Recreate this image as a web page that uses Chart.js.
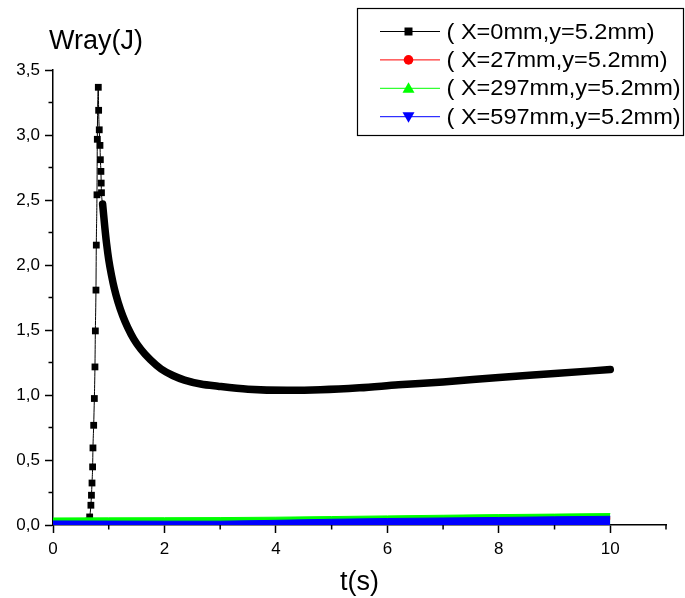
<!DOCTYPE html>
<html>
<head>
<meta charset="utf-8">
<script src="https://cdn.jsdelivr.net/npm/chart.js@4/dist/chart.umd.min.js"></script>
<style>
  html, body { margin: 0; padding: 0; background: #fff; }
</style>
</head>
<body>
<canvas id="wrayChart" width="685" height="598"></canvas>
<script>
const seriesLabels = ["( X=0mm,y=5.2mm)", "( X=27mm,y=5.2mm)", "( X=297mm,y=5.2mm)", "( X=597mm,y=5.2mm)"];
const seriesColors = ["#000000", "#ff0000", "#00ff00", "#0000ff"];

// X=0mm : pulse then slow decay
const tX0 = [0, 0.3, 0.6, 0.64, 0.658, 0.68, 0.69, 0.70, 0.711, 0.717, 0.73, 0.742, 0.753, 0.76, 0.771, 0.777, 0.789, 0.795, 0.813,
  0.819, 0.83, 0.843, 0.85, 0.86, 0.865, 0.87, 0.89, 0.93, 0.96, 1.00, 1.05, 1.10, 1.17, 1.25, 1.34, 1.45, 1.58, 1.75, 1.94,
  2.15, 2.36, 2.65, 2.96, 3.5, 4.2, 4.8, 5.5, 6.2, 7.0, 8.0, 9.0, 10.0];
const wX0 = [0.01, 0.01, 0.015, 0.03, 0.062, 0.152, 0.229, 0.323, 0.447, 0.593, 0.767, 0.973, 1.216, 1.493, 1.807, 2.153, 2.54, 2.967, 3.367,
  3.19, 3.04, 2.92, 2.81, 2.72, 2.63, 2.556, 2.47, 2.29, 2.17, 2.04, 1.92, 1.82, 1.71, 1.61, 1.52, 1.43, 1.35, 1.27, 1.20,
  1.15, 1.115, 1.085, 1.068, 1.045, 1.036, 1.04, 1.055, 1.078, 1.10, 1.135, 1.165, 1.196];

// the three far positions stay close to zero
const tFar = [0, 1, 2, 3, 4, 5, 6, 7, 8, 9, 10];
const wX27 = [0.02, 0.02, 0.021, 0.022, 0.026, 0.031, 0.036, 0.040, 0.044, 0.048, 0.052];
const wX297 = [0.054, 0.055, 0.056, 0.057, 0.060, 0.065, 0.070, 0.075, 0.080, 0.084, 0.088];
const wX597 = [0.031, 0.030, 0.029, 0.029, 0.036, 0.044, 0.050, 0.054, 0.058, 0.063, 0.067];

const xTicks = [0, 2, 4, 6, 8, 10];
const yTicks = [0, 0.5, 1.0, 1.5, 2.0, 2.5, 3.0, 3.5];
const xMinor = [1, 3, 5, 7, 9, 11];
const yMinor = [0.25, 0.75, 1.25, 1.75, 2.25, 2.75, 3.25];

const FONT = "'Liberation Sans', Arial, sans-serif";

const toPoints = (xs, ys) => xs.map((x, i) => ({ x, y: ys[i] }));

// petits traits secondaires sur les deux axes
const minorTicks = {
  id: "minorTicks",
  afterDraw(chart) {
    const { ctx, chartArea, scales } = chart;
    ctx.save();
    ctx.strokeStyle = "#000";
    ctx.lineWidth = 1.5;
    ctx.beginPath();
    xMinor.forEach((v) => {
      const px = scales.x.getPixelForValue(v);
      ctx.moveTo(px, chartArea.bottom);
      ctx.lineTo(px, chartArea.bottom + 4.5);
    });
    yMinor.forEach((v) => {
      const py = scales.y.getPixelForValue(v);
      ctx.moveTo(chartArea.left, py);
      ctx.lineTo(chartArea.left - 4.5, py);
    });
    ctx.stroke();
    ctx.restore();
  }
};

const axisTitles = {
  id: "axisTitles",
  afterDraw(chart) {
    const { ctx, chartArea } = chart;
    ctx.save();
    ctx.fillStyle = "#000";
    ctx.font = "27px " + FONT;
    ctx.textBaseline = "middle";
    ctx.textAlign = "left";
    ctx.fillText("Wray(J)", chartArea.left - 4, 42);
    ctx.textAlign = "center";
    ctx.fillText("t(s)", (chartArea.left + chartArea.right) / 2, 583);
    ctx.restore();
  }
};

function drawMarker(ctx, style, x, y, color) {
  ctx.fillStyle = color;
  ctx.beginPath();
  if (style === "rect") {
    ctx.rect(x - 4, y - 4, 8, 8);
  } else if (style === "circle") {
    ctx.arc(x, y, 4.8, 0, Math.PI * 2);
  } else if (style === "up") {
    ctx.moveTo(x, y - 6);
    ctx.lineTo(x + 6, y + 4.5);
    ctx.lineTo(x - 6, y + 4.5);
  } else {
    ctx.moveTo(x, y + 6);
    ctx.lineTo(x + 6, y - 4.5);
    ctx.lineTo(x - 6, y - 4.5);
  }
  ctx.closePath();
  ctx.fill();
}

const legendBox = {
  id: "legendBox",
  afterDraw(chart) {
    const { ctx } = chart;
    const styles = ["rect", "circle", "up", "down"];
    ctx.save();
    ctx.strokeStyle = "#000";
    ctx.lineWidth = 1.2;
    ctx.strokeRect(357.5, 8.5, 326, 127);
    seriesLabels.forEach((label, i) => {
      const y = 31.5 + i * 28.4;
      ctx.strokeStyle = seriesColors[i];
      ctx.lineWidth = 1;
      ctx.beginPath();
      ctx.moveTo(380, y);
      ctx.lineTo(440, y);
      ctx.stroke();
      drawMarker(ctx, styles[i], 408.5, y, seriesColors[i]);
      ctx.save();
      ctx.translate(446.5, y);
      ctx.scale(1.07, 1);
      ctx.fillStyle = "#000";
      ctx.font = "22px " + FONT;
      ctx.textBaseline = "middle";
      ctx.fillText(label, 0, 1);
      ctx.restore();
    });
    ctx.restore();
  }
};

new Chart(document.getElementById("wrayChart"), {
  type: "line",
  data: {
    datasets: [
      {
        label: seriesLabels[0],
        data: toPoints(tX0, wX0),
        borderColor: "#000",
        backgroundColor: "#000",
        borderWidth: 1,
        cubicInterpolationMode: "monotone",
        borderJoinStyle: "round",
        borderCapStyle: "round",
        pointStyle: "rect",
        pointRadius: (c) => (c.raw && c.raw.x > 0.885 ? 0 : 4.8),
        pointBorderWidth: 0,
        segment: {
          borderWidth: (c) => (c.p0.parsed.x >= 0.885 ? 7.5 : 1)
        },
        order: 3
      },
      {
        label: seriesLabels[1],
        data: toPoints(tFar, wX27),
        borderColor: "#ff0000",
        borderWidth: 3,
        pointRadius: 0,
        order: 2
      },
      {
        label: seriesLabels[2],
        data: toPoints(tFar, wX297),
        borderColor: "#00ff00",
        backgroundColor: "#00ff00",
        borderWidth: 1,
        fill: "origin",
        pointRadius: 0,
        order: 1
      },
      {
        label: seriesLabels[3],
        data: toPoints(tFar, wX597),
        borderColor: "#0000ff",
        backgroundColor: "#0000ff",
        borderWidth: 1,
        fill: "origin",
        pointRadius: 0,
        order: 0
      }
    ]
  },
  options: {
    responsive: false,
    animation: false,
    layout: { padding: { top: 70, right: 19, left: 0, bottom: 0 } },
    plugins: {
      legend: { display: false },
      tooltip: { enabled: false }
    },
    scales: {
      x: {
        type: "linear",
        min: 0,
        max: 11,
        afterFit: (scale) => { scale.height = 73; },
        afterBuildTicks: (scale) => { scale.ticks = xTicks.map((value) => ({ value })); },
        grid: { drawOnChartArea: false, tickLength: 8, tickWidth: 1.5, tickColor: "#000" },
        border: { color: "#000", width: 1.5 },
        ticks: { color: "#000", font: { family: FONT, size: 17 }, padding: 6, maxRotation: 0 }
      },
      y: {
        min: 0,
        max: 3.5,
        afterFit: (scale) => { scale.width = 53; },
        afterBuildTicks: (scale) => { scale.ticks = yTicks.map((value) => ({ value })); },
        grid: { drawOnChartArea: false, tickLength: 8, tickWidth: 1.5, tickColor: "#000" },
        border: { color: "#000", width: 1.5 },
        ticks: {
          color: "#000",
          font: { family: FONT, size: 17 },
          padding: 5,
          callback: (v) => v.toFixed(1).replace(".", ",")
        }
      }
    }
  },
  plugins: [minorTicks, axisTitles, legendBox]
});
</script>
</body>
</html>
